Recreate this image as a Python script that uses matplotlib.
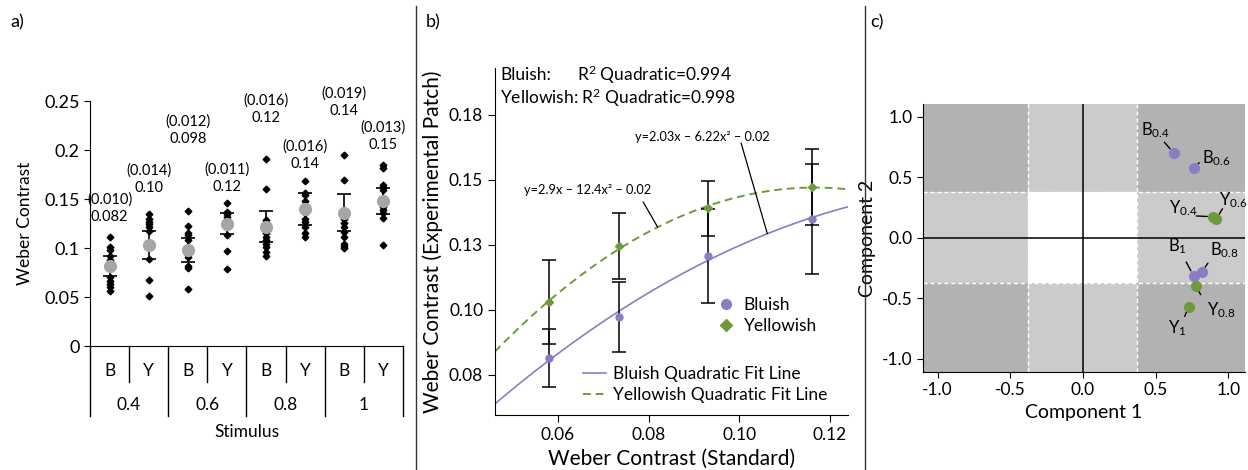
import numpy as np
import matplotlib.pyplot as plt
import matplotlib.transforms as mtransforms
from matplotlib.lines import Line2D
from matplotlib.patches import Rectangle

plt.rcParams['font.family'] = ['Lato', 'DejaVu Sans']
plt.rcParams['mathtext.default'] = 'regular'

# ---- panel a data: order B0.4, Y0.4, B0.6, Y0.6, B0.8, Y0.8, B1, Y1
stimuli = ['0.4', '0.6', '0.8', '1']
hue_codes = ['B', 'Y', 'B', 'Y', 'B', 'Y', 'B', 'Y']
trials = [
    [0.1115, 0.1007, 0.098, 0.0918, 0.0878, 0.0707, 0.0667, 0.0633, 0.0599, 0.0565],
    [0.1347, 0.1296, 0.1269, 0.1245, 0.1218, 0.1177, 0.0884, 0.0673, 0.051],
    [0.138, 0.1224, 0.1156, 0.1133, 0.1082, 0.1007, 0.0912, 0.0816, 0.0793, 0.0579],
    [0.1456, 0.137, 0.1344, 0.132, 0.1286, 0.1245, 0.1133, 0.0973, 0.0783],
    [0.1905, 0.1599, 0.1286, 0.1252, 0.1156, 0.1116, 0.1082, 0.1041, 0.1007, 0.0962, 0.0918],
    [0.1684, 0.1565, 0.1541, 0.148, 0.136, 0.1293, 0.1269, 0.1211, 0.1156, 0.1116],
    [0.1949, 0.1694, 0.1293, 0.1252, 0.1211, 0.1167, 0.1116, 0.1041, 0.102, 0.0997],
    [0.1847, 0.1813, 0.1643, 0.1619, 0.1592, 0.1422, 0.1388, 0.136, 0.1303, 0.1031],
]
means = [0.0816, 0.103, 0.098, 0.125, 0.1218, 0.1398, 0.136, 0.148]
se = [0.010, 0.014, 0.012, 0.011, 0.016, 0.016, 0.019, 0.013]
mean_text = ['0.082', '0.10', '0.098', '0.12', '0.12', '0.14', '0.14', '0.15']
se_text = ['(0.010)', '(0.014)', '(0.012)', '(0.011)', '(0.016)', '(0.016)', '(0.019)', '(0.013)']
label_y = [0.1316, 0.1612, 0.2112, 0.1622, 0.2327, 0.1857, 0.2398, 0.2051]

# ---- panel b data
standard = [0.058, 0.0735, 0.093, 0.116]
bluish = [0.0815, 0.0973, 0.1208, 0.135]
bluish_err = [0.011, 0.0135, 0.018, 0.021]
yellowish = [0.103, 0.1246, 0.139, 0.1473]
yellowish_err = [0.016, 0.0127, 0.0106, 0.0145]

# ---- panel c data
comp1 = [0.625, 0.763, 0.818, 0.761, 0.894, 0.917, 0.777, 0.728]
comp2 = [0.70, 0.58, -0.281, -0.314, 0.174, 0.155, -0.40, -0.57]
pc_names = ['B_{0.4}', 'B_{0.6}', 'B_{0.8}', 'B_{1}', 'Y_{0.4}', 'Y_{0.6}', 'Y_{0.8}', 'Y_{1}']
pc_text_xy = [(0.50, 0.89), (0.92, 0.66), (0.975, -0.10), (0.652, -0.07),
              (0.687, 0.243), (1.03, 0.31), (0.95, -0.60), (0.652, -0.75)]
pc_line_start = [(0.56, 0.79), (0.80, 0.62), (0.86, -0.21), (0.71, -0.20),
                 (0.78, 0.18), (0.96, 0.24), (0.81, -0.47), (0.70, -0.65)]

BLUE = '#8c7cc4'
GREEN = '#6f9a3c'

fig = plt.figure(figsize=(12.48, 4.70), dpi=100)

# dividers and panel letters
fig.add_artist(Line2D([0.3333, 0.3333], [0, 0.987], color='#333333', lw=1))
fig.add_artist(Line2D([0.693, 0.693], [0, 0.987], color='#333333', lw=1))
fig.text(0.008, 0.953, 'a)', fontsize=13, va='center')
fig.text(0.341, 0.953, 'b)', fontsize=13, va='center')
fig.text(0.697, 0.953, 'c)', fontsize=13, va='center')

# ================= panel a
ax = fig.add_axes([0.0721, 0.2638, 0.2508, 0.5213])
for i, vals in enumerate(trials):
    ax.plot([i + 0.5] * len(vals), vals, 'D', color='black', ms=3.4, zorder=3)
xc = np.arange(8) + 0.5
ax.errorbar(xc, means, yerr=se, fmt='none', ecolor='black', elinewidth=1.2,
            capsize=5, capthick=1.2, zorder=2)
ax.plot(xc, means, 'o', color='#a6a6a6', ms=8.5, zorder=4)
for i in range(8):
    ax.text(xc[i], label_y[i], mean_text[i], ha='center', va='center', fontsize=10.5)
    ax.text(xc[i], label_y[i] + 0.0178, se_text[i], ha='center', va='center', fontsize=10.5)
ax.set_xlim(0, 8)
ax.set_ylim(0, 0.25)
ax.set_yticks([0, 0.05, 0.1, 0.15, 0.2, 0.25])
ax.set_yticklabels(['0', '0.05', '0.1', '0.15', '0.2', '0.25'])
ax.tick_params(axis='y', labelsize=13, length=4, direction='out')
ax.set_xticks([])
for s in ['top', 'right']:
    ax.spines[s].set_visible(False)
ax.set_ylabel('Weber Contrast', fontsize=12.5, labelpad=8)
trans = mtransforms.blended_transform_factory(ax.transData, ax.transAxes)
for k in range(9):
    bottom = -0.286 if k % 2 == 0 else -0.147
    ax.plot([k, k], [0, bottom], transform=trans, color='black', lw=1, clip_on=False)
for i in range(8):
    ax.text(xc[i], -0.10, hue_codes[i], transform=trans, ha='center', va='center', fontsize=12.5)
for g, s in enumerate(stimuli):
    ax.text(2 * g + 1, -0.24, s, transform=trans, ha='center', va='center', fontsize=12.5)
ax.text(4, -0.35, 'Stimulus', transform=trans, ha='center', va='center', fontsize=12.5)

# ================= panel b
bx = fig.add_axes([0.3966, 0.117, 0.2829, 0.7383])
xs = np.linspace(0.0461, 0.124, 200)
pb = np.polyfit(standard, bluish, 2)
py = np.polyfit(standard, yellowish, 2)
bx.plot(xs, np.polyval(pb, xs), color=BLUE, lw=1.2)
bx.plot(xs, np.polyval(py, xs), color=GREEN, lw=1.4, ls=(0, (4, 2.5)))
bx.errorbar(standard, bluish, yerr=bluish_err, fmt='none', ecolor='black',
            elinewidth=1.1, capsize=5, capthick=1.1, zorder=2)
bx.errorbar(standard, yellowish, yerr=yellowish_err, fmt='none', ecolor='black',
            elinewidth=1.1, capsize=5, capthick=1.1, zorder=2)
bx.plot(standard, bluish, 'o', color=BLUE, ms=5, zorder=4)
bx.plot(standard, yellowish, 'D', color=GREEN, ms=4.5, zorder=4)
bx.set_xlim(0.0461, 0.124)
bx.set_ylim(0.0596, 0.193)
bx.set_xticks([0.06, 0.08, 0.10, 0.12])
bx.set_xticklabels(['0.06', '0.08', '0.10', '0.12'])
bx.set_yticks([0.075, 0.1, 0.125, 0.15, 0.175])
bx.set_yticklabels(['0.08', '0.10', '0.13', '0.15', '0.18'])
bx.tick_params(labelsize=12.5, length=5)
for s in ['top', 'right']:
    bx.spines[s].set_visible(False)
bx.set_xlabel('Weber Contrast (Standard)', fontsize=15)
bx.set_ylabel('Weber Contrast (Experimental Patch)', fontsize=15)

bx.text(0.014, 0.98, 'Bluish:', transform=bx.transAxes, fontsize=12.5, va='center')
bx.text(0.232, 0.98, 'R$^2$ Quadratic=0.994', transform=bx.transAxes, fontsize=12.5, va='center')
bx.text(0.014, 0.914, 'Yellowish: R$^2$ Quadratic=0.998', transform=bx.transAxes,
        fontsize=12.5, va='center')

bx.text(0.0666, 0.1462, 'y=2.9x – 12.4x² – 0.02', ha='center', va='center', fontsize=9.2)
bx.annotate('', xy=(0.082, np.polyval(py, 0.082)), xytext=(0.0788, 0.1415),
            arrowprops=dict(arrowstyle='-', color='black', lw=0.9, shrinkA=0, shrinkB=0))
bx.text(0.0918, 0.1665, 'y=2.03x – 6.22x² – 0.02', ha='center', va='center', fontsize=9.2)
bx.annotate('', xy=(0.1062, np.polyval(pb, 0.1062)), xytext=(0.1004, 0.1642),
            arrowprops=dict(arrowstyle='-', color='black', lw=0.9, shrinkA=0, shrinkB=0))

mk_handles = [Line2D([], [], marker='o', color=BLUE, ls='none', ms=7),
              Line2D([], [], marker='D', color=GREEN, ls='none', ms=6)]
leg1 = bx.legend(mk_handles, ['Bluish', 'Yellowish'], loc='upper left',
                 bbox_to_anchor=(0.575, 0.368), bbox_transform=fig.transFigure,
                 frameon=False, fontsize=12.5, handlelength=1.0, handletextpad=0.5,
                 labelspacing=0.3, borderpad=0, borderaxespad=0)
bx.add_artist(leg1)
ln_handles = [Line2D([], [], color=BLUE, lw=1.2),
              Line2D([], [], color=GREEN, lw=1.4, ls=(0, (4, 2.5)))]
bx.legend(ln_handles, ['Bluish Quadratic Fit Line', 'Yellowish Quadratic Fit Line'],
          loc='upper left', bbox_to_anchor=(0.467, 0.222), bbox_transform=fig.transFigure,
          frameon=False, fontsize=12.5, handlelength=1.35, handletextpad=0.4,
          labelspacing=0.3, borderpad=0, borderaxespad=0)

# ================= panel c
cx = fig.add_axes([0.7396, 0.2085, 0.258, 0.570])
cut = 0.375
cx.set_xlim(-1.10, 1.115)
cx.set_ylim(-1.11, 1.105)
cx.set_facecolor('#cbcbcb')
for sx in (-1, 1):
    for sy in (-1, 1):
        cx.add_patch(Rectangle((cut if sx > 0 else -2, cut if sy > 0 else -2),
                               2 - cut, 2 - cut, color='#b2b2b2', lw=0, zorder=0))
cx.add_patch(Rectangle((-cut, -cut), 2 * cut, 2 * cut, color='white', lw=0, zorder=0))
for v in (-cut, cut):
    cx.axvline(v, color='white', ls=(0, (3, 2)), lw=1, zorder=1)
    cx.axhline(v, color='white', ls=(0, (3, 2)), lw=1, zorder=1)
cx.axvline(0, color='black', lw=1.1, zorder=1)
cx.axhline(0, color='black', lw=1.1, zorder=1)
for i in range(8):
    col = BLUE if pc_names[i].startswith('B') else GREEN
    cx.plot(comp1[i], comp2[i], 'o', color=col, ms=7, zorder=4)
    cx.annotate('', xy=(comp1[i], comp2[i]), xytext=pc_line_start[i],
                arrowprops=dict(arrowstyle='-', color='black', lw=1, shrinkA=0, shrinkB=4))
    cx.text(pc_text_xy[i][0], pc_text_xy[i][1], '$' + pc_names[i] + '$',
            ha='center', va='center', fontsize=12)
cx.set_xticks([-1, -0.5, 0, 0.5, 1])
cx.set_xticklabels(['-1.0', '-0.5', '0.0', '0.5', '1.0'])
cx.set_yticks([-1, -0.5, 0, 0.5, 1])
cx.set_yticklabels(['-1.0', '-0.5', '0.0', '0.5', '1.0'])
cx.tick_params(labelsize=12.5, length=4)
for s in ['top', 'right']:
    cx.spines[s].set_visible(False)
cx.set_xlabel('Component 1', fontsize=14)
cx.set_ylabel('Component 2', fontsize=14)

fig.savefig('out.png', dpi=100)
